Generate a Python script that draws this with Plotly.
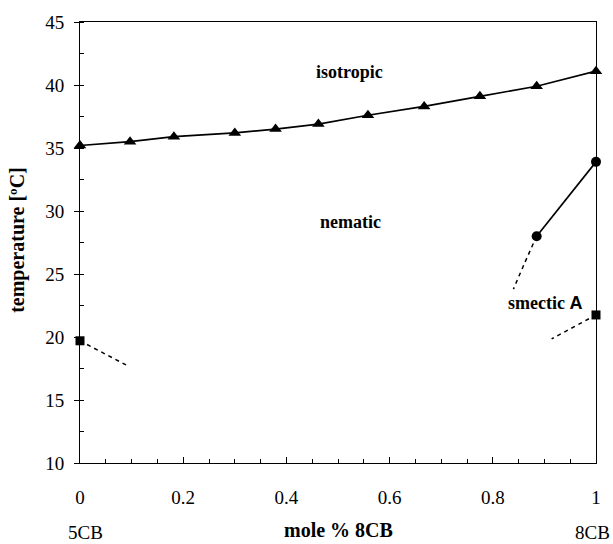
import plotly.graph_objects as go

# Isotropic-nematic transition (triangles)
iso_x = [0.0, 0.097, 0.182, 0.300, 0.379, 0.462, 0.558, 0.667, 0.775, 0.885, 1.0]
iso_y = [35.2, 35.5, 35.9, 36.2, 36.5, 36.9, 37.6, 38.3, 39.1, 39.9, 41.1]

# Nematic-smectic A transition (circles)
sm_x = [0.885, 1.0]
sm_y = [28.0, 33.9]
sm_dash_x = [0.885, 0.862, 0.840]
sm_dash_y = [28.0, 25.9, 23.8]

# Crystal melting points (squares)
cr_x = [0.0, 1.0]
cr_y = [19.7, 21.75]
cr_left_dash_x = [0.0, 0.093]
cr_left_dash_y = [19.7, 17.7]
cr_right_dash_x = [1.0, 0.914]
cr_right_dash_y = [21.75, 19.85]

FONT = "Times New Roman, Liberation Serif, serif"

fig = go.Figure()
fig.add_trace(go.Scatter(x=iso_x, y=iso_y, mode="lines+markers",
                         line=dict(color="black", width=1.7),
                         marker=dict(symbol="triangle-up", size=11, color="black"),
                         cliponaxis=False, showlegend=False))
fig.add_trace(go.Scatter(x=sm_x, y=sm_y, mode="lines+markers",
                         line=dict(color="black", width=1.7),
                         marker=dict(symbol="circle", size=10, color="black"),
                         cliponaxis=False, showlegend=False))
fig.add_trace(go.Scatter(x=sm_dash_x, y=sm_dash_y, mode="lines",
                         line=dict(color="black", width=1.5, dash="4px,4px", shape="spline"),
                         showlegend=False))
fig.add_trace(go.Scatter(x=cr_left_dash_x, y=cr_left_dash_y, mode="lines",
                         line=dict(color="black", width=1.5, dash="4px,4px"),
                         showlegend=False))
fig.add_trace(go.Scatter(x=cr_right_dash_x, y=cr_right_dash_y, mode="lines",
                         line=dict(color="black", width=1.5, dash="4px,4px"),
                         showlegend=False))
fig.add_trace(go.Scatter(x=cr_x, y=cr_y, mode="markers",
                         marker=dict(symbol="square", size=9, color="black"),
                         cliponaxis=False, showlegend=False))

fig.update_xaxes(range=[0, 1], tickvals=[0, 0.2, 0.4, 0.6, 0.8, 1.0],
                 ticktext=["0", "0.2", "0.4", "0.6", "0.8", "1"],
                 ticks="inside", ticklen=6, tickcolor="black", tickwidth=1,
                 minor=dict(dtick=0.05, ticks="inside", ticklen=4, tickcolor="black"),
                 showline=True, linecolor="black", linewidth=1, mirror=True,
                 showgrid=False, zeroline=False, ticklabelstandoff=17,
                 tickfont=dict(family=FONT, size=19, color="black"))
fig.update_yaxes(range=[10, 45], dtick=5,
                 ticks="outside", ticklen=5, tickcolor="black", tickwidth=1,
                 minor=dict(dtick=2.5, ticks="inside", ticklen=4, tickcolor="black"),
                 showline=True, linecolor="black", linewidth=1, mirror=True,
                 showgrid=False, zeroline=False, ticklabelstandoff=6,
                 tickfont=dict(family=FONT, size=19, color="black"))

ann = [
    dict(x=0.522, y=41.06, xref="x", yref="y", text="<b>isotropic</b>", showarrow=False,
         font=dict(family=FONT, size=18, color="black")),
    dict(x=0.525, y=29.1, xref="x", yref="y", text="<b>nematic</b>", showarrow=False,
         font=dict(family=FONT, size=18, color="black")),
    dict(x=0.901, y=22.7, xref="x", yref="y",
         text="<b>smectic <span style='font-family:Liberation Sans, Arial'>A</span></b>",
         showarrow=False, font=dict(family=FONT, size=18, color="black")),
    dict(x=0.5, y=0, xref="paper", yref="paper", yshift=-67, text="<b>mole % 8CB</b>",
         xanchor="center", yanchor="middle", showarrow=False,
         font=dict(family=FONT, size=20, color="black")),
    dict(x=0.01, y=0, xref="paper", yref="paper", yshift=-69, text="5CB",
         xanchor="center", yanchor="middle", showarrow=False,
         font=dict(family=FONT, size=19, color="black")),
    dict(x=0.994, y=0, xref="paper", yref="paper", yshift=-69, text="8CB",
         xanchor="center", yanchor="middle", showarrow=False,
         font=dict(family=FONT, size=19, color="black")),
    dict(x=0, y=0.506, xref="paper", yref="paper", xshift=-62, text="<b>temperature [ºC]</b>",
         xanchor="center", yanchor="middle",
         textangle=-90, showarrow=False, font=dict(family=FONT, size=20, color="black")),
]
fig.update_layout(width=613, height=544, margin=dict(l=80, r=17, t=22, b=81),
                  font=dict(family=FONT, color="black"),
                  plot_bgcolor="white", paper_bgcolor="white", annotations=ann,
                  showlegend=False)

fig.write_html("out.html", config={"displayModeBar": False},
               post_script="document.body.style.margin='0';document.body.style.overflow='hidden';")
